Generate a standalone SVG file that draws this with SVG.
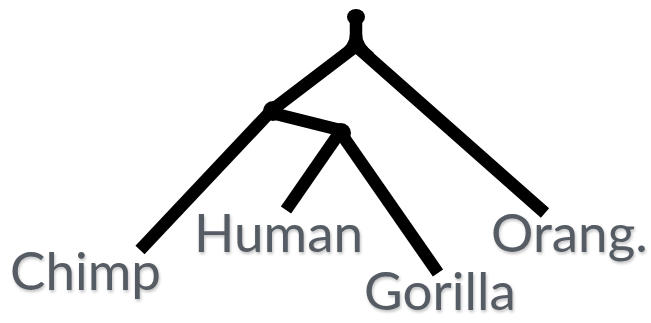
<svg xmlns="http://www.w3.org/2000/svg" width="651" height="323" viewBox="0 0 651 323">
<defs>
<style>
.br{fill:none;stroke:#000;stroke-width:12.5;stroke-linejoin:round;stroke-linecap:butt}
.lb{font-family:Lato,"Open Sans","Liberation Sans",sans-serif;font-size:53px;fill:#565c64}
</style>
<filter id="sh" x="-10%" y="-10%" width="120%" height="130%">
<feGaussianBlur in="SourceAlpha" stdDeviation="1.5"/>
<feOffset dx="1" dy="2" result="b"/>
<feComponentTransfer><feFuncA type="linear" slope="0.25"/></feComponentTransfer>
<feMerge><feMergeNode/><feMergeNode in="SourceGraphic"/></feMerge>
</filter>
</defs>
<rect width="651" height="323" fill="#fff"/>
<g id="connectors">
<path class="br" d="M356,20 L356,46"/>
<path class="br" d="M272,110 L356,46 L545,213"/>
<path d="M350,34 Q350,44 338,53 L374,53 Q362,44 362,34 Z" fill="#000"/>
<path class="br" d="M272,110 L140,250"/>
<path class="br" d="M272,113 L340,130"/>
<path class="br" d="M340,132 L286,210"/>
<path class="br" d="M340,132 L438,273"/>
</g>
<g id="root"><ellipse cx="356" cy="17" rx="9" ry="8"/></g>
<g id="node-a"><circle cx="273" cy="111" r="10"/></g>
<g id="node-b"><circle cx="341" cy="133" r="10"/></g>
<g id="chimp"><text class="lb" x="10" y="290" filter="url(#sh)">Chimp</text></g>
<g id="human"><text class="lb" x="194" y="252" filter="url(#sh)">Human</text></g>
<g id="gorilla"><text class="lb" x="364" y="310" filter="url(#sh)">Gorilla</text></g>
<g id="orang"><text class="lb" x="491" y="252" filter="url(#sh)">Orang.</text></g>
</svg>
